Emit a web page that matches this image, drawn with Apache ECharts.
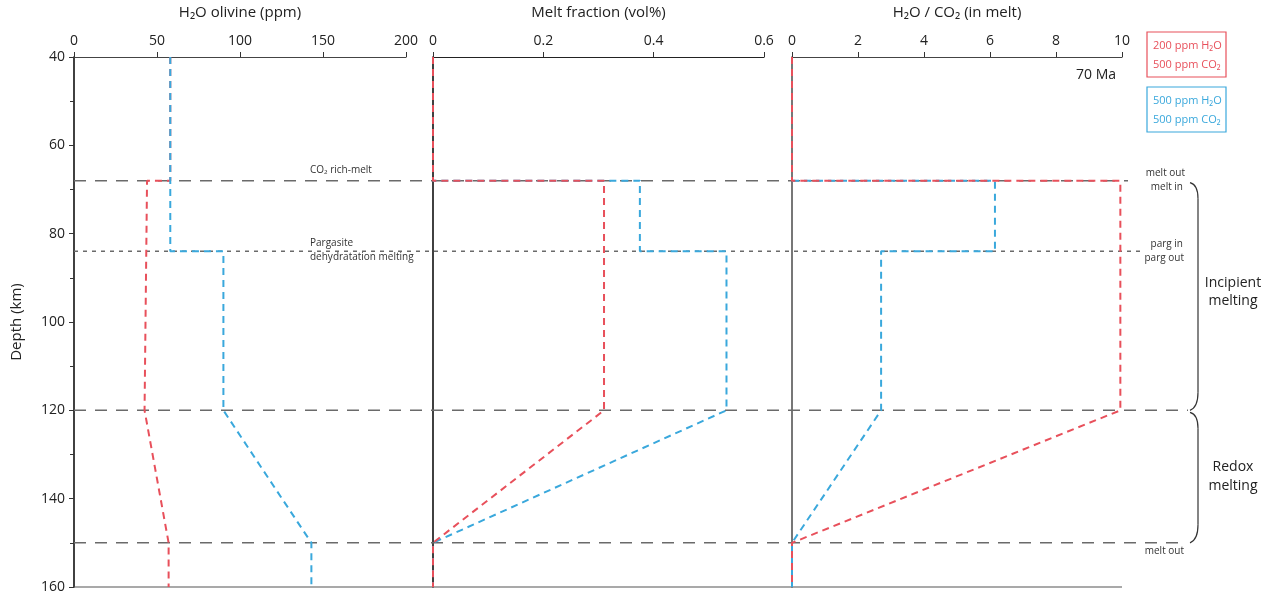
<!DOCTYPE html>
<html>
<head>
<meta charset="utf-8">
<script src="https://cdn.jsdelivr.net/npm/echarts@6/dist/echarts.min.js"></script>
<style>html,body{margin:0;padding:0;background:#fff}#c{width:1276px;height:596px}</style>
</head>
<body>
<div id="c"></div>
<script>
// ---- data ----
const depthTicks = [40, 60, 80, 100, 120, 140, 160];
const olivineTicks = [0, 50, 100, 150, 200];
const meltTicks = [0, 0.2, 0.4, 0.6];
const ratioTicks = [0, 2, 4, 6, 8, 10];
const boundaryDepths = [68, 84, 120, 150];

// [value, depth]
const olivineRed  = [[58,40],[58,68],[44,68],[42.5,120],[57,150],[57,160]];
const olivineBlue = [[58,40],[58,84],[90,84],[90,120],[143,150],[143,160]];
const meltRed  = [[0,40],[0,68],[0.31,68],[0.31,120],[0,150],[0,160]];
const meltBlue = [[0,40],[0,68],[0.375,68],[0.375,84],[0.532,84],[0.532,120],[0,150],[0,160]];
const ratioRed  = [[0,40],[0,68],[9.95,68],[9.95,120],[0,150],[0,160]];
const ratioBlue = [[0,68],[6.15,68],[6.15,84],[2.7,84],[2.7,120],[0,150],[0,160]];

const RED = '#e8505b', BLUE = '#3aa8dc';
const FONT = '"Open Sans", "Noto Sans", sans-serif';

const chart = echarts.init(document.getElementById('c'));

const grids = [
  {left: 74, width: 332, top: 57, height: 530},
  {left: 433, width: 331, top: 57, height: 530},
  {left: 792, width: 330, top: 57, height: 530}
];

function xAx(i, name, min, max, interval, lineColor) {
  return {
    gridIndex: i, type: 'value', position: 'top', min, max, interval,
    name, nameLocation: 'middle', nameGap: 37,
    nameTextStyle: {fontFamily: FONT, fontSize: 15, color: '#222'},
    axisLine: {show: true, onZero: false, lineStyle: {color: lineColor, width: 1.2}},
    axisTick: {show: true, inside: false, length: 5, lineStyle: {color: '#333'}},
    axisLabel: {fontFamily: FONT, fontSize: 14, color: '#222', margin: 9},
    splitLine: {show: false}
  };
}
function yAx(i, main, color) {
  return {
    gridIndex: i, type: 'value', inverse: true, min: 40, max: 160, interval: 20,
    name: main ? 'Depth (km)' : '', nameLocation: 'middle', nameGap: 50, nameRotate: 90,
    nameTextStyle: {fontFamily: FONT, fontSize: 15, color: '#222'},
    axisLine: {show: true, onZero: false, lineStyle: {color: color, width: 1.6}},
    axisTick: {show: main, length: 5, lineStyle: {color: '#333'}},
    minorTick: {show: main, splitNumber: 2, length: 4, lineStyle: {color: '#333'}},
    axisLabel: {show: main, fontFamily: FONT, fontSize: 14, color: '#222', margin: 9},
    splitLine: {show: false}, minorSplitLine: {show: false}
  };
}
function ser(name, data, color, xi, z) {
  return {
    name, type: 'line', data, xAxisIndex: xi, yAxisIndex: xi, symbol: 'none',
    z, lineStyle: {color, width: 2, type: [7, 5]}, animation: false
  };
}

chart.setOption({
  animation: false,
  grid: grids,
  xAxis: [
    xAx(0, 'H₂O olivine (ppm)', 0, 200, 50, '#444'),
    xAx(1, 'Melt fraction (vol%)', 0, 0.6, 0.2, '#222'),
    xAx(2, 'H₂O / CO₂ (in melt)', 0, 10, 2, '#444')
  ],
  yAxis: [yAx(0, true, '#111'), yAx(1, false, '#111'), yAx(2, false, '#555')],
  series: [
    ser('200 ppm H₂O, 500 ppm CO₂', olivineRed, RED, 0, 3),
    ser('500 ppm H₂O, 500 ppm CO₂', olivineBlue, BLUE, 0, 4),
    ser('500 ppm H₂O, 500 ppm CO₂', meltBlue, BLUE, 1, 3),
    ser('200 ppm H₂O, 500 ppm CO₂', meltRed, RED, 1, 4),
    ser('500 ppm H₂O, 500 ppm CO₂', ratioBlue, BLUE, 2, 3),
    ser('200 ppm H₂O, 500 ppm CO₂', ratioRed, RED, 2, 4)
  ]
});

// ---- decorations positioned through the axes ----
const P = (gi, x, y) => chart.convertToPixel({gridIndex: gi}, [x, y]);
const xL = P(0, 0, 40)[0];
const xR = P(2, 10, 40)[0];
const yOf = d => P(0, 0, d)[1];
const g = [];

// bottom line
g.push({type: 'line', shape: {x1: xL, y1: yOf(160), x2: xR, y2: yOf(160)}, style: {stroke: '#555', lineWidth: 1.2}, z: 1});

// boundary lines
const ends = [xR + 6, xR + 18, xR + 66, xR + 58];
boundaryDepths.forEach((d, i) => {
  const y = yOf(d);
  g.push({type: 'line', shape: {x1: xL, y1: y, x2: ends[i], y2: y},
    style: {stroke: '#6a6a6a', lineWidth: 1.5, lineDash: d === 84 ? [4, 5] : [12, 9]}, z: 1});
});

function txt(x, y, text, opts) {
  g.push({type: 'text', x, y, z: 10, style: Object.assign({text, fontFamily: FONT, fontSize: 10, fill: '#333',
    textAlign: 'left', textVerticalAlign: 'middle'}, opts || {})});
}
txt(310, yOf(68) - 11, 'CO₂ rich-melt');
txt(310, yOf(84) - 8, 'Pargasite');
txt(310, yOf(84) + 6, 'dehydratation melting');
txt(1185, yOf(68) - 8, 'melt out', {textAlign: 'right'});
txt(1183, yOf(68) + 6, 'melt in', {textAlign: 'right'});
txt(1183, yOf(84) - 7, 'parg in', {textAlign: 'right'});
txt(1184, yOf(84) + 7, 'parg out', {textAlign: 'right'});
txt(1184, yOf(150) + 8, 'melt out', {textAlign: 'right'});
txt(xR - 6, 75, '70 Ma', {textAlign: 'right', fontSize: 14, fill: '#222'});

// braces
function brace(y1, y2) {
  const xa = 1190, xb = 1198;
  const st = {stroke: '#333', lineWidth: 1.2, fill: null};
  g.push({type: 'bezierCurve', z: 5, shape: {x1: xa, y1: y1 + 2, x2: xb, y2: y1 + 18, cpx1: xb, cpy1: y1 + 4}, style: st});
  g.push({type: 'line', z: 5, shape: {x1: xb, y1: y1 + 18, x2: xb, y2: y2 - 18}, style: st});
  g.push({type: 'bezierCurve', z: 5, shape: {x1: xb, y1: y2 - 18, x2: xa, y2: y2, cpx1: xb, cpy1: y2 - 3}, style: st});
}
brace(yOf(68), yOf(120));
brace(yOf(120), yOf(150));
txt(1233, (yOf(68) + yOf(120)) / 2 - 12, 'Incipient', {textAlign: 'center', fontSize: 14, fill: '#222'});
txt(1233, (yOf(68) + yOf(120)) / 2 + 6, 'melting', {textAlign: 'center', fontSize: 14, fill: '#222'});
txt(1233, (yOf(120) + yOf(150)) / 2 - 10, 'Redox', {textAlign: 'center', fontSize: 14, fill: '#222'});
txt(1233, (yOf(120) + yOf(150)) / 2 + 9, 'melting', {textAlign: 'center', fontSize: 14, fill: '#222'});

// legend boxes
g.push({type: 'rect', shape: {x: 1147, y: 32, width: 79, height: 45}, style: {stroke: RED, lineWidth: 1.2, fill: '#fff'}, z: 5});
g.push({type: 'rect', shape: {x: 1147, y: 87, width: 79, height: 45}, style: {stroke: BLUE, lineWidth: 1.2, fill: '#fff'}, z: 5});
txt(1153, 46, '200 ppm H₂O', {fontSize: 11, fill: RED});
txt(1153, 65, '500 ppm CO₂', {fontSize: 11, fill: RED});
txt(1153, 101, '500 ppm H₂O', {fontSize: 11, fill: BLUE});
txt(1153, 120, '500 ppm CO₂', {fontSize: 11, fill: BLUE});

chart.setOption({graphic: g});
</script>
</body>
</html>
